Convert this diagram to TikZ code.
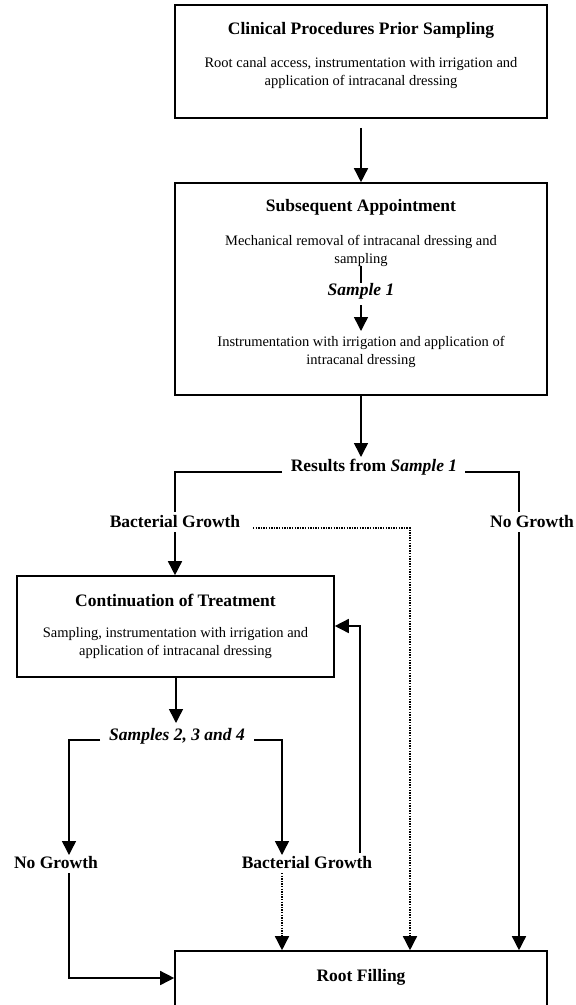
\documentclass[tikz,border=0pt]{standalone}
\usepackage{fontspec}
\setmainfont{Liberation Serif}
\usetikzlibrary{arrows.meta}
\begin{document}
\begin{tikzpicture}[x=1pt,y=-1pt,
  box/.style={draw,line width=1.6pt,inner sep=0pt},
  ttl/.style={inner sep=0pt,font=\fontsize{17.5}{20}\selectfont\bfseries},
  body/.style={inner sep=0pt,align=center,font=\fontsize{14.5}{18.5}\selectfont},
  lbl/.style={inner sep=0pt,font=\fontsize{17.5}{20}\selectfont\bfseries},
  ln/.style={line width=1.5pt},
  conn/.style={ln,-{Triangle[length=14pt,width=14pt]}},
  dotconn/.style={line width=1.4pt,dash pattern=on 1.4pt off 1.2pt,-{Triangle[length=14pt,width=14pt]}}
]
\useasboundingbox (0,0) rectangle (576,1005);

% Box 1
\node[box,minimum width=372pt,minimum height=113pt] (b1) at (361,61.5) {};
\node[ttl] (b1t) at (361,30) {Clinical Procedures Prior Sampling};
\node[body] (b1b) at (361,73) {Root canal access, instrumentation with irrigation and\\application of intracanal dressing};

% Box 2
\node[box,minimum width=372pt,minimum height=212pt] (b2) at (361,289) {};
\node[ttl] (b2t) at (361,207) {Subsequent Appointment};
\node[body] (b2a) at (361,251) {Mechanical removal of intracanal dressing and\\sampling};
\node[lbl,font=\fontsize{17.5}{20}\selectfont\bfseries\itshape] (s1) at (361,291) {Sample 1};
\node[body] (b2b) at (361,352) {Instrumentation with irrigation and application of\\intracanal dressing};
\coordinate (s1top) at (361,266);
\coordinate (s1bot) at (361,305);
\draw[ln] (s1top) -- (s1.north);
\draw[conn] (s1bot) -- (361,331);

\draw[conn,shorten <=9pt] (b1.south) -- (b2.north);

% Results
\node[lbl] (res) at (374,467) {Results from \textit{Sample 1}};
\draw[conn] (b2.south) -- (361,457);

\node[lbl] (bg1) at (175,522) {Bacterial Growth};
\node[lbl] (ng1) at (532,522) {No Growth};
\coordinate (rl) at (282,472);
\coordinate (rr) at (465,472);
\draw[ln] (rl) -- (175,472) -- (175,512);
\draw[ln] (rr) -- (519,472) -- (519,512);

% Box 3
\node[box,minimum width=317pt,minimum height=101pt] (b3) at (175.5,626.5) {};
\node[ttl] (b3t) at (175.5,600) {Continuation of Treatment};
\node[body] (b3b) at (175.5,643) {Sampling, instrumentation with irrigation and\\application of intracanal dressing};

\draw[conn] (175,532) -- (b3.north -| 175,0);

% Samples 2,3,4
\node[lbl,font=\fontsize{17.5}{20}\selectfont\bfseries\itshape] (s234) at (177,736) {Samples 2, 3 and 4};
\draw[conn] (b3.south -| 176,0) -- (176,723);
\coordinate (sl) at (100,740);
\coordinate (sr) at (254,740);

\node[lbl] (ng2) at (56,863) {No Growth};
\node[lbl] (bg2) at (307,863) {Bacterial Growth};
\draw[conn] (sl) -- (69,740) -- (69,855);
\draw[conn] (sr) -- (282,740) -- (282,855);

% Root filling
\node[box,minimum width=372pt,minimum height=62pt] (rf) at (361,982) {};
\node[ttl] (rft) at (361,977) {Root Filling};

% feedback
\draw[conn] (360,853) -- (360,626) -- (b3.east |- 0,626);

% to root filling
\draw[conn] (69,873) -- (69,978) -- (rf.west |- 0,978);
\draw[dotconn] (282,873) -- (rf.north -| 282,0);
\draw[dotconn] (253,528) -- (410,528) -- (rf.north -| 410,0);
\draw[conn] (519,532) -- (rf.north -| 519,0);
\end{tikzpicture}
\end{document}
